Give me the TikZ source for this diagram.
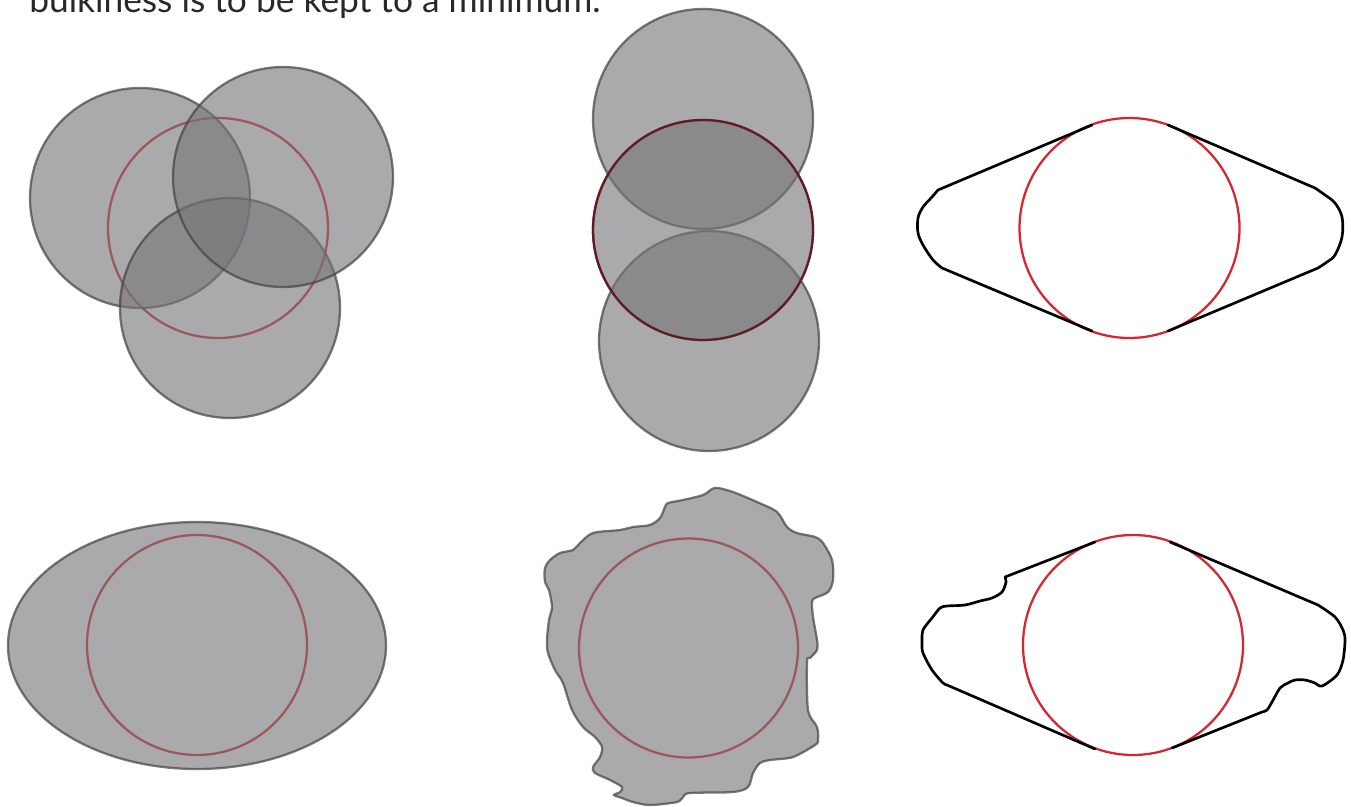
\documentclass[tikz,border=0pt]{standalone}
\usepackage{fontspec}
\newfontfamily\txtfont{Lato}
\definecolor{redc}{RGB}{214,38,46}
\definecolor{greyf}{RGB}{118,118,122}
\definecolor{greyd}{RGB}{66,66,66}
\definecolor{darkred}{RGB}{92,30,36}
\definecolor{txtc}{RGB}{40,40,40}
\begin{document}
\begin{tikzpicture}[x=0.75pt,y=-0.75pt,
  gshape/.style={fill=greyf,fill opacity=0.62,draw=greyd,draw opacity=0.7,line width=1.7pt},
  redline/.style={draw=redc,line width=1.7pt},
  blk/.style={draw=black,line width=2pt,line join=round,line cap=round}]
\useasboundingbox (0,0) rectangle (1351,806);
\node[anchor=base west,inner sep=0pt,text=txtc,font=\txtfont\fontsize{26.5pt}{30pt}\selectfont] (txt) at (29,13) {bulkiness is to be kept to a minimum.};

% top-left group
\draw[redline] (218,228) circle[radius=110];
\draw[gshape] (140,198) circle[radius=110];
\draw[gshape] (230,308) circle[radius=110];
\draw[gshape] (283,177) circle[radius=110];

% top-middle group
\draw[redline] (703,230) circle[radius=110];
\draw[gshape] (703,119) circle[radius=110];
\draw[gshape] (709,341) circle[radius=110];
\draw[gshape,draw=darkred,draw opacity=1] (703,230) circle[radius=110];

% top-right
\draw[redline] (1129.5,228) circle[radius=110];
\draw[blk] (1092,125) -- plot[smooth,tension=0.55] coordinates {(938,190) (932,197) (923,207) (918,218) (918,233) (923,245) (933,260) (942,268)} -- (1092,331);
\draw[blk] (1168,125) -- plot[smooth,tension=0.55] coordinates {(1315,188) (1325,195) (1335,203) (1342,217) (1342,237) (1335,255) (1327,262) (1318,268)} -- (1168,331);

% bottom-left
\draw[redline] (197,645) circle[radius=110];
\draw[gshape] (197,645.5) ellipse[x radius=189,y radius=123.5];

% bottom-middle blob
\draw[redline] (688.5,648) circle[radius=109.5];
\draw[gshape] plot[smooth cycle,tension=0.5] coordinates {
 (718,488) (733,492) (757,502) (777,512) (787,527) (797,533) (815,537) (823,543)
 (832,560) (833,580) (828,592) (815,598) (812,602) (813,617) (817,640) (817,650)
 (810,658) (807,662) (808,710) (817,727) (818,740) (815,745) (793,757) (770,760)
 (760,763) (753,773) (748,787) (733,792) (690,793) (683,797) (677,802) (650,805)
 (633,802) (622,798) (614,795) (620,792) (622,787) (610,780) (595,773) (593,767)
 (600,757) (602,747) (595,737) (583,727) (572,710) (563,683) (555,670) (548,653)
 (547,640) (549,620) (552,607) (549,590) (545,582) (545,568) (550,560) (560,553)
 (573,550) (580,543) (593,533) (620,530) (633,527) (650,525) (660,518) (665,507)
 (668,503) (683,500) (703,495) (712,489)};

% bottom-right
\draw[redline] (1133,645) circle[radius=110];
\draw[blk] (1095,542) -- plot[smooth,tension=0.5] coordinates {(1005,577) (1006,582) (1002,592) (992,598) (980,601) (965,605) (947,606) (940,608) (932,618) (923,630) (922,643) (923,653) (932,670) (943,683) (947,685)} -- (1095,749);
\draw[blk] (1170,542) -- plot[smooth,tension=0.5] coordinates {(1318,605) (1335,617) (1343,630) (1345,640) (1343,660) (1337,675) (1322,686) (1315,683) (1305,680) (1295,680) (1288,683) (1280,688) (1272,702) (1267,710) (1262,712)} -- (1172,748);
\end{tikzpicture}
\end{document}
